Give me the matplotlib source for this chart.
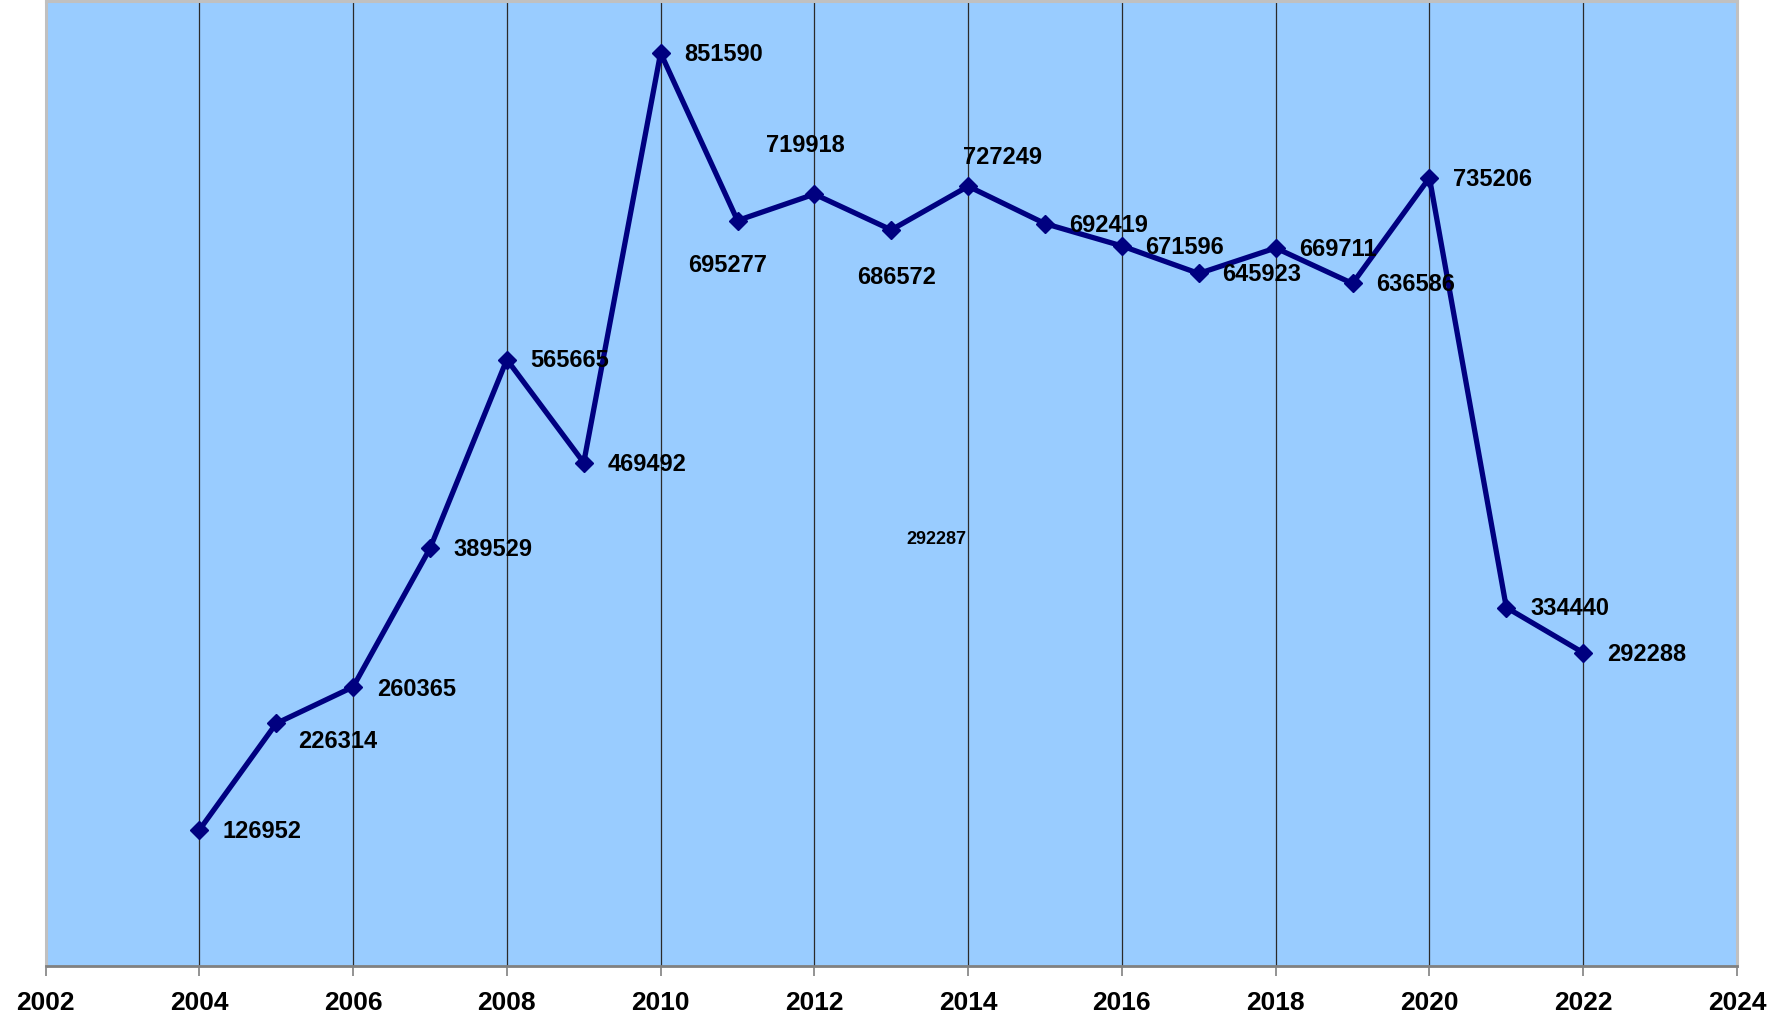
import matplotlib
matplotlib.use('Agg')
import matplotlib.pyplot as plt

years = list(range(2004, 2023))
values = [126952, 226314, 260365, 389529, 565665, 469492, 851590, 695277, 719918,
          686572, 727249, 692419, 671596, 645923, 669711, 636586, 735206, 334440, 292288]
tick_years = list(range(2002, 2025, 2))
stray_label = "292287"

# label placement (offset points, horizontal alignment) per point
default_off = (17, -1, 'left')
offsets = {
    2005: (15.5, -13, 'left'),
    2006: (17, -2, 'left'),
    2011: (-7, -32, 'center'),
    2012: (-6.5, 35, 'center'),
    2013: (4, -34, 'center'),
    2014: (-4, 20.5, 'left'),
}

font = ['Liberation Sans', 'DejaVu Sans']

fig = plt.figure(figsize=(17.87, 10.24), dpi=100)
ax = fig.add_axes([0.0255, 0.0565, 0.9465, 0.9425])
ax.set_facecolor('#99CCFF')

ax.plot(years, values, color='#000080', lw=3.8, marker='D', markersize=9, zorder=3)

for x, v in zip(years, values):
    dx, dy, ha = offsets.get(x, default_off)
    ax.annotate(str(v), (x, v), xytext=(dx, dy), textcoords='offset points',
                ha=ha, va='center', fontsize=17, fontweight='bold',
                family=font, color='black', zorder=4)

ax.text(2013.59, 397600, stray_label, ha='center', va='center', fontsize=13,
        fontweight='bold', family=font)

ax.set_xlim(2002, 2024)
ax.set_ylim(0, 900000)
ax.set_xticks(tick_years)
ax.set_xticklabels([str(t) for t in tick_years], fontsize=19, fontweight='bold',
                   family=font)
ax.set_yticks([])
for t in tick_years[1:-1]:
    ax.axvline(t, color='#2a2a2a', lw=0.9, zorder=1)

ax.tick_params(axis='x', length=7, width=1.2, color='#808080', pad=11)
for s in ['left', 'top', 'right']:
    ax.spines[s].set_color('#C0C0C0')
    ax.spines[s].set_linewidth(2.2)
ax.spines['bottom'].set_color('#808080')
ax.spines['bottom'].set_linewidth(2)

fig.savefig('out.png', dpi=100)
